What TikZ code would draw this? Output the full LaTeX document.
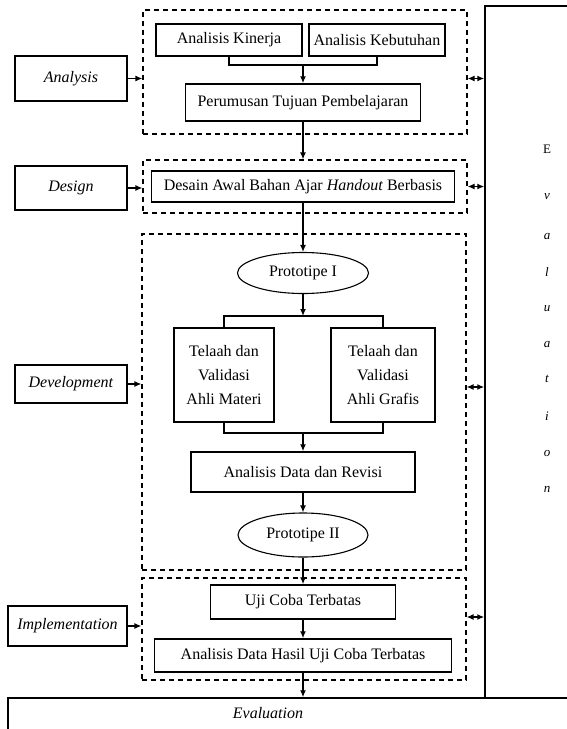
\documentclass[tikz,border=0pt]{standalone}
\usepackage{fontspec}
\setmainfont{Liberation Serif}
\usepackage{tikz}
\usetikzlibrary{arrows.meta,shapes.geometric}

\begin{document}
\begin{tikzpicture}[
                x=1pt, y=-1pt,
                font=\fontsize{16}{24}\selectfont,
                box/.style={rectangle, draw, line width=1.5pt, inner sep=0pt,
                align=center},
                group/.style={rectangle, draw, dashed, line width=1.2pt,
                dash pattern=on 5pt off 4pt, inner sep=0pt},
                oval/.style={ellipse, draw, line width=1.1pt, inner sep=0pt},
                arrow/.style={-{Latex[length=7pt,width=6pt]}, line width=1.3pt},
                twoway/.style={{Latex[length=7pt,width=6pt]}-{Latex[length=7pt,width=6pt]}, line width=1.3pt}
            ]
        \useasboundingbox (0,0) rectangle (567,729);
        \clip (0,0) rectangle (567,729);

        % dashed phase groups
        \node[group, minimum width=324pt, minimum height=124pt] (grpA) at (305,72)    {};
        \node[group, minimum width=324pt, minimum height=53pt]  (grpB) at (305,186.5) {};
        \node[group, minimum width=324pt, minimum height=336pt] (grpC) at (304,402)   {};
        \node[group, minimum width=324pt, minimum height=102pt] (grpD) at (304,629)   {};

        % phase labels
        \node[box, minimum width=112pt, minimum height=45pt] (analysis) at (71,78.5) {\textit{Analysis}};
        \node[box, minimum width=112pt, minimum height=44pt] (design)   at (71,188)  {\textit{Design}};
        \node[box, minimum width=112pt, minimum height=38pt] (devel)    at (71,384)  {\textit{Development}};
        \node[box, minimum width=119pt, minimum height=40pt] (implem)   at (67.5,626) {\textit{Implementation}};

        % evaluation frame
        \node[box, minimum width=140pt, minimum height=692pt] (evalv) at (555,352) {};
        \node[box, minimum width=620pt, minimum height=60pt]  (evalh) at (318,728) {};
        \node (evaltext) at (268,713) {\textit{Evaluation}};
        \node[font=\fontsize{13}{15}\selectfont] (evalE) at (547,149) {E};
        \foreach \ch/\yy [count=\i] in {v/197,a/237,l/272,u/309,a/345,t/379,i/416,o/453,n/489}
            \node[font=\fontsize{13}{15}\selectfont\itshape] (eval\i) at (547,\yy) {\ch};

        % analysis
        \node[box, minimum width=146pt, minimum height=32pt] (kinerja)   at (229,40)    {Analisis Kinerja};
        \node[box, minimum width=136pt, minimum height=32pt] (kebutuhan) at (377,40)    {Analisis Kebutuhan};
        \node[box, minimum width=235pt, minimum height=37pt] (tujuan)    at (303,102.5) {Perumusan Tujuan Pembelajaran};
        \coordinate (jA) at (303,65);

        % design
        \node[box, minimum width=303pt, minimum height=31pt] (desain) at (303,186.5) {Desain Awal Bahan Ajar \textit{Handout} Berbasis};

        % development
        \node[oval, minimum width=131pt, minimum height=41pt] (proto1)  at (303,273) {Prototipe I};
        \node[box, minimum width=100pt, minimum height=94pt] (telaahA) at (224,375) {Telaah dan\\Validasi\\Ahli Materi};
        \node[box, minimum width=104pt, minimum height=94pt] (telaahB) at (383,375) {Telaah dan\\Validasi\\Ahli Grafis};
        \coordinate (j1) at (303,316);
        \coordinate (j2) at (303,433);
        \node[box, minimum width=224pt, minimum height=40pt] (revisi) at (303,472) {Analisis Data dan Revisi};
        \node[oval, minimum width=130pt, minimum height=44pt] (proto2) at (303,535) {Prototipe II};

        % implementation
        \node[box, minimum width=185pt, minimum height=34pt] (ujicoba) at (303,602)   {Uji Coba Terbatas};
        \node[box, minimum width=297pt, minimum height=33pt] (hasil)   at (303,655.5) {Analisis Data Hasil Uji Coba Terbatas};

        % flow
        \draw[line width=1.3pt] (kinerja.south) |- (jA) -| (kebutuhan.south);
        \draw[arrow] (jA) -- (tujuan.north);
        \draw[arrow] (tujuan.south) -- (tujuan.south |- grpB.north);
        \draw[arrow] (desain.south) -- (proto1.north);
        \draw[arrow] (proto1.south) -- (j1);
        \draw[line width=1.3pt] (telaahA.north) |- (j1) -| (telaahB.north);
        \draw[line width=1.3pt] (telaahA.south) |- (j2) -| (telaahB.south);
        \draw[arrow] (j2) -- (revisi.north);
        \draw[arrow] (revisi.south) -- (proto2.north);
        \draw[arrow] (proto2.south) -- (ujicoba.north);
        \draw[arrow] (ujicoba.south) -- (hasil.north);
        \draw[arrow] (hasil.south) -- (hasil.south |- evalh.north);

        % phase labels to groups
        \draw[arrow] (analysis.east) -- (analysis.east -| grpA.west);
        \draw[arrow] (design.east)   -- (design.east -| grpB.west);
        \draw[arrow] (devel.east)    -- (devel.east -| grpC.west);
        \draw[arrow] (implem.east)   -- (implem.east -| grpD.west);

        % groups to evaluation
        \draw[twoway] (grpA.east |- analysis.east) -- (evalv.west |- analysis.east);
        \draw[twoway] (grpB.east) -- (evalv.west |- grpB.east);
        \draw[twoway] ([yshift=-3pt]grpC.east |- devel.east) -- ([yshift=-3pt]evalv.west |- devel.east);
        \draw[twoway] ([yshift=9pt]grpD.east |- implem.east) -- ([yshift=9pt]evalv.west |- implem.east);
            \end{tikzpicture}
\end{document}
